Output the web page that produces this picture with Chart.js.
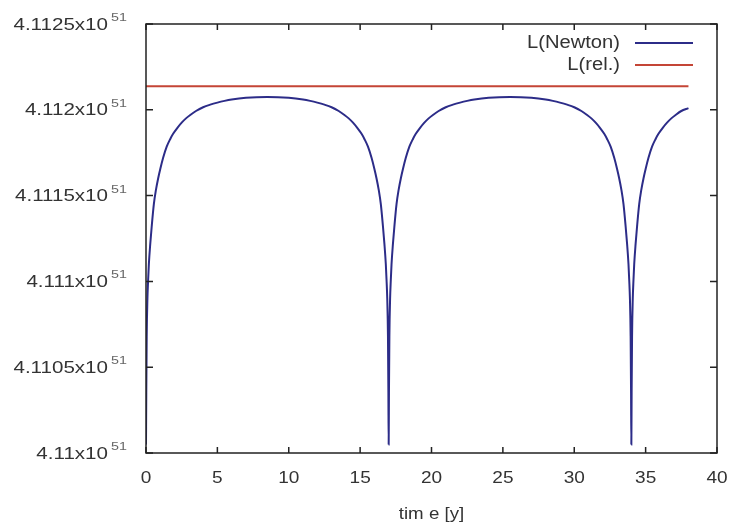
<!DOCTYPE html>
<html>
<head>
<meta charset="utf-8">
<script src="https://cdn.jsdelivr.net/npm/chart.js@4.4.0/dist/chart.umd.min.js"></script>
<style>
    body { margin: 0; background: #ffffff; }
    #contenedor { width: 731px; height: 529px; position: relative; }
</style>
</head>
<body>
<div id="contenedor"><canvas id="chart1"></canvas></div>
<script>
// datos (L en unidades de 10^51)
const tiempoNewton = [
    0, 0.02, 0.05, 0.1, 0.15, 0.2, 0.3, 0.4, 0.55, 0.7, 0.85, 1, 1.2, 1.45, 1.7, 1.9, 2.2, 2.5, 2.8, 3.1, 3.5, 4, 4.5, 5, 5.5, 6, 7, 8.5,
    10, 11, 11.5, 12, 12.5, 13, 13.5, 13.9, 14.2, 14.5, 14.8, 15.1, 15.3, 15.55, 15.8, 16, 16.15, 16.3, 16.45, 16.6, 16.7, 16.8, 16.85, 16.9, 16.95, 16.98,
    17, 17.02, 17.05, 17.1, 17.15, 17.2, 17.3, 17.4, 17.55, 17.7, 17.85, 18, 18.2, 18.45, 18.7, 18.9, 19.2, 19.5, 19.8, 20.1, 20.5, 21, 21.5, 22, 22.5, 23, 24, 25.5,
    27, 28, 28.5, 29, 29.5, 30, 30.5, 30.9, 31.2, 31.5, 31.8, 32.1, 32.3, 32.55, 32.8, 33, 33.15, 33.3, 33.45, 33.6, 33.7, 33.8, 33.85, 33.9, 33.95, 33.98,
    34, 34.02, 34.05, 34.1, 34.15, 34.2, 34.3, 34.4, 34.55, 34.7, 34.85, 35, 35.2, 35.45, 35.7, 35.9, 36.2, 36.5, 36.8, 37.1, 37.5, 38
];
const lNewton = [
    4.11005, 4.11035, 4.11068, 4.1109, 4.11101, 4.1111, 4.11122, 4.11132, 4.11145, 4.111535, 4.1116, 4.111655, 4.11172, 4.111785, 4.11183, 4.11186, 4.111895, 4.111925, 4.11195, 4.11197, 4.111993, 4.112015, 4.11203, 4.112042, 4.112052, 4.11206, 4.11207, 4.112075,
    4.11207, 4.11206, 4.112052, 4.112042, 4.11203, 4.112015, 4.111993, 4.11197, 4.11195, 4.111925, 4.111895, 4.11186, 4.11183, 4.111785, 4.11172, 4.111655, 4.1116, 4.111535, 4.11145, 4.11132, 4.11122, 4.1111, 4.11101, 4.1109, 4.11068, 4.11035,
    4.11005, 4.11035, 4.11068, 4.1109, 4.11101, 4.1111, 4.11122, 4.11132, 4.11145, 4.111535, 4.1116, 4.111655, 4.11172, 4.111785, 4.11183, 4.11186, 4.111895, 4.111925, 4.11195, 4.11197, 4.111993, 4.112015, 4.11203, 4.112042, 4.112052, 4.11206, 4.11207, 4.112075,
    4.11207, 4.11206, 4.112052, 4.112042, 4.11203, 4.112015, 4.111993, 4.11197, 4.11195, 4.111925, 4.111895, 4.11186, 4.11183, 4.111785, 4.11172, 4.111655, 4.1116, 4.111535, 4.11145, 4.11132, 4.11122, 4.1111, 4.11101, 4.1109, 4.11068, 4.11035,
    4.11005, 4.11035, 4.11068, 4.1109, 4.11101, 4.1111, 4.11122, 4.11132, 4.11145, 4.111535, 4.1116, 4.111655, 4.11172, 4.111785, 4.11183, 4.11186, 4.111895, 4.111925, 4.11195, 4.11197, 4.111993, 4.11201
];
const tiempoRel = [0, 38];
const lRel = [4.112137, 4.112137];

const yTicks = [4.11, 4.1105, 4.111, 4.1115, 4.112, 4.1125];
const yEtiquetas = ['4.11', '4.1105', '4.111', '4.1115', '4.112', '4.1125'];
const exponente = '51';
const xTicks = [0, 5, 10, 15, 20, 25, 30, 35, 40];
const etiquetasLeyenda = ['L(Newton)', 'L(rel.)'];
const tituloX = 'tim e [y]';

const colorNewton = '#2c2c88';
const colorRel = '#c44536';

function puntos(xs, ys) {
    return xs.map((x, i) => ({ x: x, y: ys[i] }));
}

// texto estirado en horizontal como en la imagen original
function textoEstirado(c, txt, x, y, escala, alinear) {
    c.save();
    c.translate(x, y);
    c.scale(escala, 1);
    c.textAlign = alinear;
    c.fillText(txt, 0, 0);
    c.restore();
}

const marcoPlugin = {
    id: 'marco',
    afterDraw(chart) {
        const c = chart.ctx;
        const a = chart.chartArea;
        const xs = chart.scales.x;
        const ys = chart.scales.y;
        c.save();
        c.strokeStyle = '#222';
        c.lineWidth = 1.5;
        c.strokeRect(a.left, a.top, a.right - a.left, a.bottom - a.top);
        c.beginPath();
        xs.ticks.forEach(t => {
            const px = xs.getPixelForValue(t.value);
            c.moveTo(px, a.bottom); c.lineTo(px, a.bottom - 6);
            c.moveTo(px, a.top); c.lineTo(px, a.top + 6);
        });
        ys.ticks.forEach(t => {
            const py = ys.getPixelForValue(t.value);
            c.moveTo(a.left, py); c.lineTo(a.left + 7, py);
            c.moveTo(a.right, py); c.lineTo(a.right - 7, py);
        });
        c.stroke();

        // etiquetas eje y con exponente
        c.textBaseline = 'middle';
        ys.ticks.forEach((t, i) => {
            const py = ys.getPixelForValue(t.value);
            c.fillStyle = '#333';
            c.font = '17px "Liberation Sans", Arial, sans-serif';
            textoEstirado(c, yEtiquetas[i] + 'x10', 108, py + 1, 1.21, 'right');
            c.fillStyle = '#666';
            c.font = '11px "Liberation Sans", Arial, sans-serif';
            textoEstirado(c, exponente, 111, py - 6, 1.3, 'left');
        });

        // etiquetas eje x
        c.fillStyle = '#333';
        c.font = '17px "Liberation Sans", Arial, sans-serif';
        xs.ticks.forEach(t => {
            const px = xs.getPixelForValue(t.value);
            textoEstirado(c, String(t.value), px, 478, 1.12, 'center');
        });
        textoEstirado(c, tituloX, (a.left + a.right) / 2, 514, 1.1, 'center');

        // leyenda
        const colores = [colorNewton, colorRel];
        c.font = '18px "Liberation Sans", Arial, sans-serif';
        etiquetasLeyenda.forEach((txt, i) => {
            const py = 43 + i * 22;
            c.fillStyle = '#333';
            textoEstirado(c, txt, 620, py, 1.12, 'right');
            c.strokeStyle = colores[i];
            c.lineWidth = 2;
            c.beginPath();
            c.moveTo(635, py); c.lineTo(693, py);
            c.stroke();
        });
        c.restore();
    }
};

let tablaL;
function crearTablaL() {
    const ctx = document.getElementById('chart1');
    const config = {
        type: 'line',
        data: {
            datasets: [{
                label: etiquetasLeyenda[0],
                data: puntos(tiempoNewton, lNewton),
                borderColor: colorNewton,
                borderWidth: 2,
                pointRadius: 0,
                cubicInterpolationMode: 'monotone'
            }, {
                label: etiquetasLeyenda[1],
                data: puntos(tiempoRel, lRel),
                borderColor: colorRel,
                borderWidth: 2,
                pointRadius: 0
            }]
        },
        options: {
            responsive: true,
            maintainAspectRatio: false,
            animation: false,
            layout: { padding: { left: 0, top: 24, right: 14, bottom: 0 } },
            plugins: {
                legend: { display: false },
                tooltip: { enabled: false }
            },
            scales: {
                x: {
                    type: 'linear',
                    min: 0,
                    max: 40,
                    grid: { display: false },
                    border: { display: false },
                    ticks: { display: false },
                    afterBuildTicks: s => { s.ticks = xTicks.map(v => ({ value: v })); },
                    afterFit: s => { s.height = 76; }
                },
                y: {
                    min: 4.11,
                    max: 4.1125,
                    grid: { display: false },
                    border: { display: false },
                    ticks: { display: false },
                    afterBuildTicks: s => { s.ticks = yTicks.map(v => ({ value: v })); },
                    afterFit: s => { s.width = 146; }
                }
            }
        },
        plugins: [marcoPlugin]
    };
    if (tablaL instanceof Chart) {
        tablaL.destroy();
    }
    tablaL = new Chart(ctx, config);
}
crearTablaL();
</script>
</body>
</html>
